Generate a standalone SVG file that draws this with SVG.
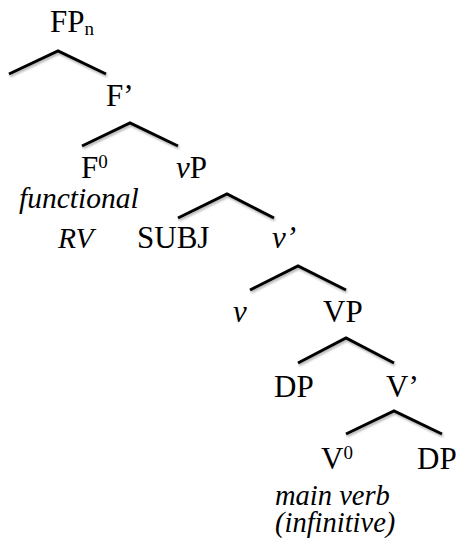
<svg xmlns="http://www.w3.org/2000/svg" width="461" height="550" viewBox="0 0 461 550">
<defs>
<filter id="sh" x="-10%" y="-30%" width="120%" height="180%">
<feDropShadow dx="1" dy="2" stdDeviation="1.2" flood-color="#000" flood-opacity="0.3"/>
</filter>
</defs>
<style>
.i{font-style:italic}
.e{fill:none;stroke:#000;stroke-width:3;stroke-linecap:butt;stroke-linejoin:miter;filter:url(#sh)}
</style>
<rect width="461" height="550" fill="#fff"/>
<g id="connectors">
<polyline class="e" points="9,74 58,51 106,74"/>
<polyline class="e" points="82,146 130,123 178,146"/>
<polyline class="e" points="178,218 227,194 274,218"/>
<polyline class="e" points="250,290 298,266 346,290"/>
<polyline class="e" points="298,363 346,338 394,363"/>
<polyline class="e" points="346,434 394,411 442,434"/>
</g>
<g font-family="'Liberation Serif', serif" font-size="31" fill="#000">
<g id="FPn"><text x="50" y="32" font-family="'Liberation Serif', serif">FP<tspan font-size="19" dy="3">n</tspan></text></g>
<g id="Fbar"><text x="106" y="106" font-family="'Liberation Serif', serif">F’</text></g>
<g id="F0"><text x="81" y="178" font-family="'Liberation Serif', serif">F<tspan font-size="19" dy="-10">0</tspan></text>
<text class="i" x="19" y="208" font-size="29.5" font-family="'Liberation Serif', serif">functional</text>
<text class="i" x="58" y="248" font-size="29.5" font-family="'Liberation Serif', serif">RV</text></g>
<g id="vP"><text x="176" y="178" font-family="'Liberation Serif', serif"><tspan class="i">v</tspan>P</text></g>
<g id="SUBJ"><text x="137" y="248" font-family="'Liberation Serif', serif">SUBJ</text></g>
<g id="vbar"><text class="i" x="272" y="248" font-family="'Liberation Serif', serif">v’</text></g>
<g id="v"><text class="i" x="233" y="322" font-family="'Liberation Serif', serif">v</text></g>
<g id="VP"><text x="323" y="322" font-family="'Liberation Serif', serif">VP</text></g>
<g id="DP1"><text x="274" y="397" font-family="'Liberation Serif', serif">DP</text></g>
<g id="Vbar"><text x="386" y="397" font-family="'Liberation Serif', serif">V’</text></g>
<g id="V0"><text x="321" y="469" font-family="'Liberation Serif', serif">V<tspan font-size="19" dy="-10">0</tspan></text>
<text class="i" x="275" y="505" font-size="28.5" font-family="'Liberation Serif', serif">main verb</text>
<text class="i" x="275" y="532" font-size="28.5" font-family="'Liberation Serif', serif">(infinitive)</text></g>
<g id="DP2"><text x="417" y="469" font-family="'Liberation Serif', serif">DP</text></g>
</g>
</svg>
